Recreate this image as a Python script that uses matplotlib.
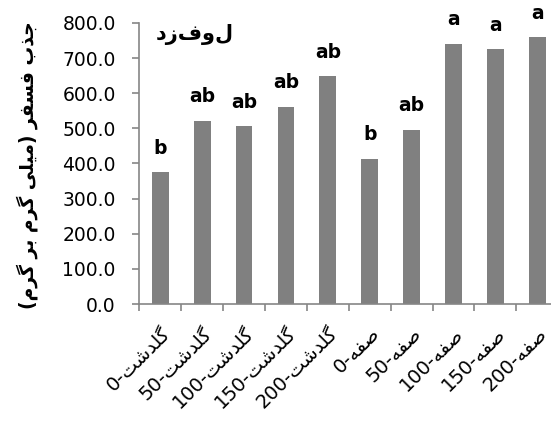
import numpy as np
import matplotlib
matplotlib.use("Agg")
import matplotlib.pyplot as plt

# Rotated texts are drawn glyph by glyph without shaping, so the Persian words
# on the rotated labels are spelled in visual order with Arabic presentation forms.
GOLDASHT = "\uFE96\uFEB7\uFEAA\uFEE0\uFB94"     # گلدشت
SOFFEH = "\uFEEA\uFED4\uFEBB"                   # صفه
JAZB = "\uFE8F\uFEAC\uFE9F"                     # جذب
FASFAR = "\uFEAE\uFED4\uFEB4\uFED3"             # فسفر
MILI = "\uFEF0\uFEE0\uFEF4\uFEE3"               # میلی
GARAM = "\uFEE1\uFEAE\uFB94"                    # گرم
BAR = "\uFEAE\uFE91"                            # بر

doses = ["0", "50", "100", "150", "200"]
tick_labels = [d + "-" + GOLDASHT for d in doses] + [d + "-" + SOFFEH for d in doses]
uptake = [375, 521, 506, 561, 648, 413, 496, 740, 725, 759]
letters = ["b", "ab", "ab", "ab", "ab", "b", "ab", "a", "a", "a"]
y_ticks = [0, 100, 200, 300, 400, 500, 600, 700, 800]

title = "دزفول"
ylabel = "(" + GARAM + " " + BAR + " " + GARAM + " " + MILI + ") " + FASFAR + " " + JAZB

plt.rcParams["font.family"] = ["DejaVu Sans"]

fig = plt.figure(figsize=(5.51, 4.23), dpi=100)
ax = fig.add_axes([0.253, 0.281, 0.760, 0.665])

x = np.arange(len(uptake))
ax.bar(x, uptake, width=0.4, color="#808080")

for xi, val, lab in zip(x, uptake, letters):
    ax.annotate(lab, (xi, val), xytext=(0, 10.5), textcoords="offset points",
                ha="center", va="bottom", fontsize=13.5, fontweight="bold")

ax.set_xlim(-0.5, 9.5)
ax.set_ylim(0, 800)
ax.set_yticks(y_ticks)
ax.set_yticklabels([f"{v:.1f}" for v in y_ticks], fontsize=13.5)

# category boundaries carry the tick marks, labels sit at bar centres
ax.set_xticks(np.arange(-0.5, 9.5, 1.0))
ax.set_xticklabels([])
ax.set_xticks(x, minor=True)
ax.set_xticklabels(tick_labels, minor=True, rotation=45, ha="right",
                   rotation_mode="anchor", fontsize=14)
ax.tick_params(axis="x", which="minor", length=0, pad=14)
ax.tick_params(axis="x", which="major", length=5, color="#868686", width=1.2)
ax.tick_params(axis="y", length=5, color="#868686", width=1.2, pad=12)

for side in ["top", "right"]:
    ax.spines[side].set_visible(False)
for side in ["left", "bottom"]:
    ax.spines[side].set_color("#868686")
    ax.spines[side].set_linewidth(1.2)

ax.text(0.04, 0.995, title, transform=ax.transAxes, ha="left", va="top",
        fontsize=15, fontweight="bold")

fig.text(0.05, 0.61, ylabel, rotation=90, ha="center", va="center",
         fontsize=13.5, fontweight="bold")

fig.savefig("out.png", dpi=100)
